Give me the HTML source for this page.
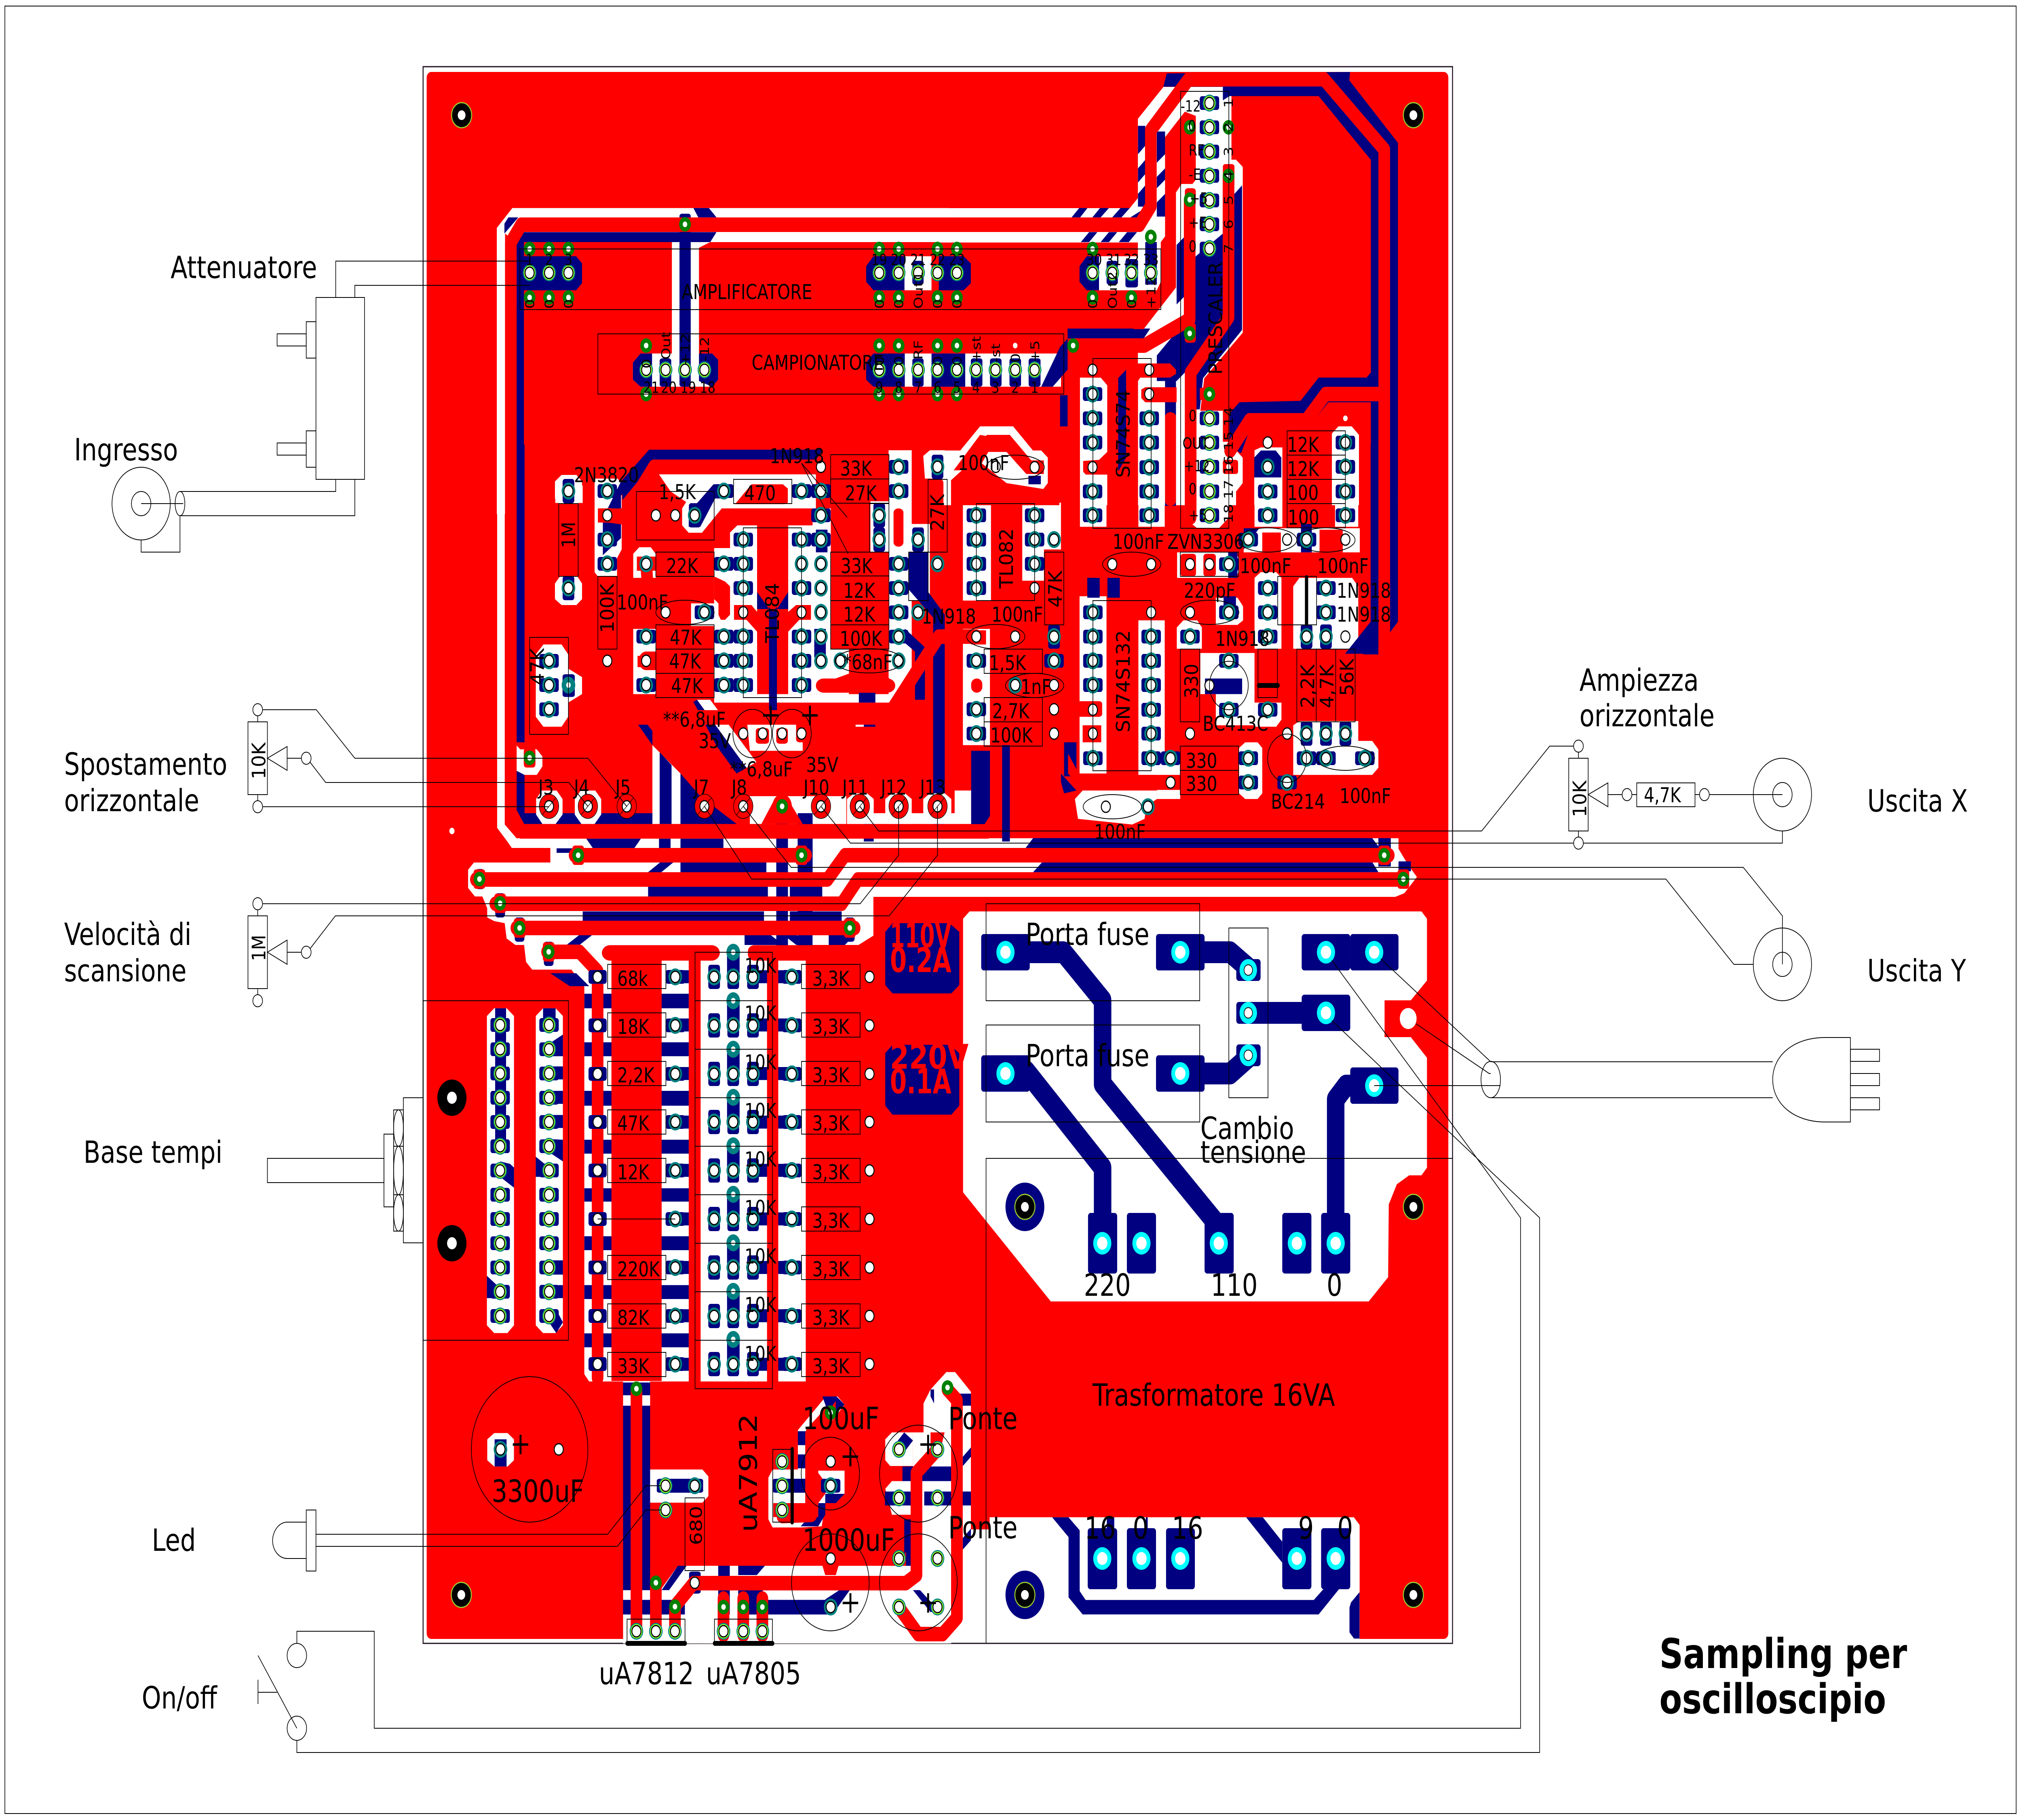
<!DOCTYPE html>
<html><head><meta charset="utf-8"><title>Sampling per oscilloscipio</title>
<style>
html,body{margin:0;padding:0;background:#fff;width:100%;height:100%;overflow:hidden}
svg{display:block;position:absolute;left:0;top:0;width:100vw;height:100vh}
text{font-family:"DejaVu Sans","Liberation Sans",sans-serif;fill:#000}
.s{font-size:51px}.m{font-size:38px}.b{font-size:76px}.v{font-size:58px}
.ln{fill:none;stroke:#000;stroke-width:2}
</style></head><body>
<svg xmlns="http://www.w3.org/2000/svg" viewBox="0 0 6243 4503" preserveAspectRatio="none">
<defs>
<g id="h"><circle r="14" fill="#fff" stroke="#000" stroke-width="3"/></g>
<g id="w"><use href="#h"/></g>
<g id="wb"><rect x="-28" y="-17" width="56" height="34" rx="7" fill="#000080"/><use href="#h"/></g>
<g id="n"><circle r="21" fill="#008080"/><use href="#h"/></g>
<g id="t"><rect x="-30" y="-17" width="60" height="34" rx="7" fill="#000080"/><use href="#n"/></g>
<g id="u"><rect x="-18" y="-30" width="36" height="60" rx="7" fill="#000080"/><use href="#n"/></g>
<g id="y"><circle r="21" fill="#008080"/><circle r="18" fill="#9aff20"/><use href="#h"/></g>
<g id="yb"><rect x="-30" y="-17" width="60" height="34" rx="7" fill="#000080"/><use href="#y"/></g>
<g id="g"><circle r="18" fill="#008000"/><circle r="7" fill="#fff"/></g>
<g id="gr"><rect x="-18" y="-24" width="36" height="48" rx="8" fill="#f00"/><use href="#g"/></g>
<g id="d"><circle r="21" fill="#008080"/><circle r="7" fill="#fff"/></g>
<g id="j"><circle r="30" fill="#f00" stroke="#000" stroke-width="1.5"/><use href="#h"/><line x1="-21" y1="21" x2="21" y2="-21" stroke="#000" stroke-width="1.5"/></g>
<g id="mt"><circle r="31" fill="#000" stroke="#9acd32" stroke-width="3"/><circle r="12" fill="#fff"/></g>
<g id="cy"><circle r="28" fill="#0ff"/><circle r="16" fill="#fff"/></g>
<g id="cz"><circle r="27" fill="#0ff"/><circle r="13" fill="#fff" stroke="#000" stroke-width="2"/></g>
<g id="plus"><path d="M-24,0H24M0,-24V24" stroke="#000" stroke-width="6" fill="none"/></g>
</defs>
<rect width="6243" height="4503" fill="#fff"/>
<rect x="15" y="15" width="6213" height="4472" fill="none" stroke="#000" stroke-width="2"/>
<rect x="1307" y="165" width="3180" height="3901" fill="none" stroke="#201020" stroke-width="3"/>
<rect x="1318" y="178" width="3156" height="3877" rx="14" fill="#f00"/>

<!-- WHITE LAYER 1 -->
<g fill="#fff">
<g transform="translate(1300,150) scale(1.0204,.7015)">
<polygon points="230,590 277,520 1600,520 1600,640 876,640 842,660 842,1040 760,1040 760,640 312,640 288,640 255,610 255,1600 230,1600"/>
<polygon points="1464,690 1546,690 1546,810 1464,810"/>
<polygon points="642,1065 665,1033 882,1033 900,1055 900,1125 882,1150 665,1150 642,1125"/>
<polygon points="1465,1033 1600,1033 1600,1150 1465,1150"/>
<polygon points="407,1500 430,1475 470,1475 490,1500 490,1560 407,1560"/>
</g>
<polygon points="2900,515 3490,515 3515,490 3515,294 3594,215 3804,215 3804,395 3818,395 3839,413 3839,823 3720,936 3700,1070 3660,1100 3660,1250 3620,1250 3600,915 3515,915 3515,600 2900,600"/>
<g transform="translate(2900,150) scale(1.0204,.7015)">
<polygon points="485,690 603,690 603,810 485,810"/>
<polygon points="0,1033 310,1033 370,1033 370,1150 0,1150"/>
<polygon points="427,1118 510,1118 510,1568 427,1568"/>
<polygon points="603,1118 685,1118 685,1568 603,1568"/>
<polygon points="778,1235 860,1235 860,1568 778,1568"/>
<polygon points="860,1375 900,1375 920,1400 920,1490 900,1520 900,1568 860,1568"/>
<polygon points="0,1375 65,1375 125,1290 225,1290 285,1375 310,1375 330,1400 330,1490 310,1520 300,1568 0,1568"/>
<polygon points="955,1400 975,1375 1020,1375 1037,1400 1037,1568 955,1568"/>
<polygon points="1190,1315 1210,1290 1250,1290 1272,1320 1272,1568 1190,1568"/>
<polygon points="1308,1460 1332,1460 1332,1568 1308,1568"/>
<polygon points="1367,1480 1390,1530 1390,1568 1367,1568"/>
</g>
<g transform="translate(1500,1100) scale(1.0204,.7015)">
<polygon points="35,0 58,0 58,1340 95,1390 95,1422 80,1422 35,1352"/>
<polygon points="210,130 230,107 275,107 292,130 292,185 280,208 222,208 210,190"/>
<polygon points="210,490 225,465 278,465 292,490 292,545 275,566 230,566 210,545"/>
<polygon points="330,120 400,120 412,140 412,370 398,400 398,465 340,465 330,450"/>
<polygon points="447,385 465,362 500,362 515,385 515,470 447,470"/>
<polygon points="660,105 1000,105 1000,225 715,225 655,311 615,311 595,285 595,225"/>
<polygon points="525,105 660,105 610,205 560,165"/>
<polygon points="692,365 740,365 740,310 762,285 822,285 822,880 692,880"/>
<polygon points="916,285 1045,285 1045,880 916,880"/>
<polygon points="1045,720 1100,720 1100,880 1045,880"/>
<polygon points="447,650 515,650 515,880 447,880"/>
<polygon points="622,560 706,560 706,640 622,640"/>
<polygon points="692,880 1250,880 1250,910 692,910"/>
<polygon points="1220,20 1290,20 1290,820 1250,880 1220,880"/>
<polygon points="990,225 1045,225 1045,340 990,340"/>
<polygon points="1165,200 1230,200 1230,380 1165,380"/>
<polygon points="1325,40 1345,20 1390,20 1410,40 1410,120 1345,120 1330,120"/>
<polygon points="1280,280 1345,280 1345,550 1280,550"/>
<polygon points="1445,200 1530,200 1530,550 1445,550"/>
<polygon points="1445,650 1530,650 1530,1060 1445,1060"/>
<polygon points="152,740 175,705 230,705 250,740 250,790 292,820 292,880 250,910 250,960 230,995 175,995 152,960"/>
<polygon points="93,1060 105,1075 155,1075 172,1100 172,1135 155,1165 105,1165 93,1150"/>
<polygon points="790,960 960,960 960,1080 800,1080"/>
<polygon points="1120,960 1180,960 1180,995 1120,995"/>
<polygon points="800,1240 1092,1240 1092,1338 800,1338"/>
<polygon points="505,1060 590,1160 590,1338 505,1338"/>
<polygon points="1094,1300 1445,1300 1445,1338 1094,1338"/>
<polygon points="1420,1220 1470,1220 1470,1338 1420,1338"/>
<polygon points="640,900 680,900 820,1120 790,1140"/>
</g>
<g transform="translate(3000,1100) scale(.9566,.7015)">
<polygon points="-20,205 62,205 62,540 -20,540"/>
<polygon points="165,205 290,205 290,370 235,370 235,480 165,480"/>
<polygon points="350,-10 437,-10 437,290 350,290"/>
<polygon points="540,-10 625,-10 625,290 540,290"/>
<polygon points="690,-10 830,-10 830,260 800,295 730,295 690,260"/>
<polygon points="665,380 850,380 865,400 865,450 850,470 665,470"/>
<polygon points="350,535 437,535 437,1160 350,1160"/>
<polygon points="540,620 625,620 625,1165 540,1165"/>
<polygon points="664,645 685,620 730,620 745,645 745,720 664,720"/>
<polygon points="790,540 860,540 878,570 878,620 860,636 790,636"/>
<polygon points="740,735 915,735 915,990 790,990 790,880 740,880"/>
<polygon points="915,470 935,450 985,450 1002,470 1002,720 915,720"/>
<polygon points="915,910 1002,910 1002,970 985,995 915,995"/>
<polygon points="1040,500 1060,470 1230,470 1250,500 1250,720 1040,720"/>
<polygon points="1040,990 1060,975 1250,975 1250,1045 1295,1045 1315,1075 1315,1140 1295,1165 1180,1165 1040,1165"/>
<polygon points="865,1070 885,1050 925,1050 940,1070 940,1230 925,1250 885,1250 865,1230"/>
<polygon points="600,1085 675,1085 675,1250 600,1250"/>
<polygon points="335,1250 360,1220 600,1220 600,1250 565,1275 560,1320 520,1340 345,1320"/>
<polygon points="915,20 935,10 1005,10 1005,290 915,290"/>
<polygon points="1175,10 1250,10 1250,290 1175,290"/>
<polygon points="880,295 1255,295 1255,380 880,380"/>
<polygon points="1290,0 1378,0 1378,625 1300,740 1290,740"/>
</g>
<!-- bars region + resistor columns -->
<polygon points="1538,2048 1581,2098 1700,2098 1700,2134 1464,2134 1446,2152 1446,2197 1467,2218 1490,2218 1505,2247 1505,2270 1527,2279 1559,2284 1565,2322 1592,2338 1619,2338 1625,2380 1644,2399 1765,2399 1805,2442 1805,3400 1820,3418 2489,3418 2489,2338 2652,2338 2698,2315 2698,2219 4310,2219 4338,2210 4377,2170 4350,2140 4320,2100 4320,2074 1560,2074"/>
<g transform="translate(1300,2200) scale(1.0204,.7653)">
<polygon points="200,410 222,385 260,385 282,410 282,1410 262,1435 222,1435 200,1410"/>
<polygon points="348,410 370,385 408,385 430,410 430,1410 408,1435 370,1435 348,1410"/>
</g>
<g transform="translate(1400,3300) scale(1.0842,.574)">
<polygon points="484,205 500,190 545,190 561,205 561,310 484,310"/>
<polygon points="540,618 562,585 710,585 727,615 727,700 710,728 562,728 540,700"/>
<polygon points="97,455 117,428 155,428 173,455 173,545 155,572 117,572 97,545"/>
<polygon points="1360,240 1405,165 1430,165 1475,250 1475,1225 1418,1335 484,1335 484,1105 590,1105 640,1000 1310,1000 1310,425 1340,425 1340,300"/>
<polygon points="982,415 1062,270 1095,270 1115,305 1062,410 1010,420 1005,590 1115,590 1115,690 1090,730 1060,730 1050,830 990,835 910,835 898,800 898,620 910,585 982,585"/>
<polygon points="1231,455 1250,425 1310,425 1310,570 1245,570 1231,545"/>
<polygon points="1231,668 1250,635 1310,635 1310,780 1250,780"/>
<polygon points="1231,1100 1310,1100 1310,1250 1231,1170"/>
</g>
<polygon points="2995,2255 4391,2255 4408,2273 4408,2426 4358,2475 4277,2475 4277,2566 4358,2566 4408,2617 4408,2889 4391,2908 4353,2908 4315,2930 4290,2980 4288,3160 4228,3220 3246,3220 2975,2950 2975,2273"/>
<polygon points="2999,3700 2999,3784 3057,3784 3057,3754 4182,3754 4200,3773 4200,4060 2900,4060 2900,3700"/>
</g>

<!-- BLUE LAYER -->
<g fill="#000080">
<g transform="translate(1300,150) scale(1.0204,.7015)">
<polygon points="253,605 253,575 265,553 295,553 253,610"/>
<rect x="288" y="605" width="24" height="1000"/>
<polygon points="290,605 895,605 876,640 312,640 290,630"/>
<polygon points="825,520 872,520 895,553 840,553"/>
<rect x="783" y="540" width="34" height="610" rx="8"/>
<polygon points="300,690 470,690 488,715 488,785 470,810 300,810"/>
<polygon points="1348,725 1370,690 1464,690 1464,810 1370,810 1348,780"/>
<rect x="1488" y="706" width="34" height="84" rx="8"/>
<polygon points="642,1065 665,1033 700,1033 700,1150 665,1150 642,1125"/>
<rect x="723" y="1050" width="35" height="100" rx="8"/>
<polygon points="842,1033 882,1033 900,1055 900,1125 882,1150 842,1130"/>
<polygon points="1348,1065 1370,1033 1465,1033 1465,1150 1370,1150 1348,1125"/>
<rect x="1488" y="1050" width="34" height="100" rx="8"/>
<polygon points="1546,1033 1600,1033 1600,1150 1546,1150"/>
<polygon points="690,1375 1200,1375 1180,1410 710,1410 610,1550 610,1500"/>
</g>
<g transform="translate(2900,150) scale(1.0204,.7015)">
<polygon points="0,690 75,690 97,715 97,785 75,810 0,810"/>
<polygon points="426,725 448,690 485,690 485,810 448,810 426,780"/>
<rect x="508" y="706" width="34" height="84" rx="8"/>
<rect x="565" y="700" width="38" height="100" rx="8"/>
<rect x="625" y="640" width="35" height="150"/>
<polygon points="0,1033 80,1033 80,1150 0,1150"/>
<rect x="97" y="1050" width="35" height="100" rx="8"/>
<rect x="155" y="1050" width="35" height="100" rx="8"/>
<rect x="214" y="1050" width="35" height="100" rx="8"/>
<rect x="272" y="1050" width="36" height="100" rx="8"/>
<polygon points="367,1010 390,980 390,1090 345,1150 310,1150"/>
<rect x="367" y="1180" width="23" height="110"/>
<polygon points="690,45 1245,40 1243,70 1390,290 1390,1978 1317,2092 1230,2092 1308,1978 1308,350 1150,125 880,125 860,140 860,92 680,92"/>
<polygon points="778,690 860,610 860,480 895,470 918,440 918,950 800,1120 790,1230 745,1230 745,800"/>
<rect x="603" y="230" width="22" height="285"/>
<rect x="660" y="250" width="25" height="300"/>
<polygon points="402,553 425,520 450,520 428,553"/>
<polygon points="465,553 488,520 515,520 490,553"/>
<polygon points="525,553 550,520 578,520 553,553"/>
<polygon points="580,553 625,520 625,553"/>
<polygon points="430,640 455,605 480,605 455,640"/>
<polygon points="490,640 515,605 540,605 515,640"/>
<polygon points="545,640 570,605 600,605 575,640"/>
<polygon points="1308,1100 1295,1118 1150,1118 1095,1200 910,1205 880,1245 880,1360 915,1385 945,1290 1120,1290 1180,1205 1330,1205 1330,1460 1308,1460"/>
<polygon points="955,1400 975,1375 1020,1375 1037,1400 1037,1470 955,1470"/>
<polygon points="543,1120 567,1090 567,1400 543,1450"/>
<rect x="685" y="1100" width="33" height="470"/>
<polygon points="390,945 640,945 620,980 390,980"/>
<polygon points="720,650 745,620 745,830 720,860"/>
<polygon points="660,1040 745,920 745,1100 720,1130 660,1130"/>
</g>
<g transform="translate(1500,1100) scale(1.0204,.7015)">
<rect x="93" y="0" width="25" height="1050"/>
<polygon points="495,18 1020,18 1000,55 500,55 410,180 410,330 355,390 355,260 410,130"/>
<polygon points="690,140 730,140 730,190 695,190 650,290 615,290 615,240"/>
<polygon points="93,1150 118,1165 118,1300 505,1300 505,1338 115,1338 93,1300"/>
<polygon points="527,1085 563,1130 563,1338 527,1338"/>
<polygon points="590,1160 650,1240 760,1338 590,1338"/>
<polygon points="610,920 640,900 790,1140 760,1160"/>
<polygon points="416,905 445,960 505,1060 505,1010 425,890"/>
<rect x="1145" y="960" width="35" height="35"/>
<rect x="1130" y="875" width="50" height="35"/>
<rect x="1470" y="1080" width="60" height="260"/>
<rect x="858" y="560" width="24" height="400"/>
<polygon points="822,520 858,580 822,580"/>
<polygon points="916,520 882,580 916,580"/>
<polygon points="1280,380 1340,380 1340,520 1390,600 1390,1340 1355,1340 1355,610 1280,510"/>
<polygon points="1270,650 1330,715 1330,900 1300,900 1300,730 1250,680"/>
<rect x="995" y="650" width="35" height="100"/>
<rect x="1000" y="300" width="35" height="80"/>
<polygon points="305,1390 470,1390 450,1424 325,1424"/>
<polygon points="525,1390 560,1390 560,1424 525,1424"/>
<polygon points="590,1390 720,1390 720,1424 590,1424"/>
<polygon points="490,1510 530,1472 570,1472 530,1510"/>
<rect x="590" y="1472" width="260" height="38"/>
<rect x="880" y="1300" width="35" height="270"/>
<rect x="945" y="1300" width="45" height="270"/>
<rect x="1145" y="1300" width="30" height="100"/>
<rect x="233" y="810" width="37" height="80" rx="8"/>
<polygon points="215,1440 320,1440 300,1424 215,1424"/>
</g>
<g transform="translate(3000,1100) scale(.9566,.7015)">
<polygon points="1290,0 1315,0 1315,740 1290,740"/>
<polygon points="1350,0 1378,0 1378,625 1300,740 1265,740 1350,610"/>
<rect x="815" y="535" width="40" height="65"/>
<rect x="830" y="380" width="30" height="90"/>
<rect x="755" y="825" width="120" height="55"/>
<polygon points="200,1388 1295,1388 1320,1424 175,1424"/>
<polygon points="230,1472 1295,1472 1315,1508 200,1508"/>
<rect x="1315" y="1388" width="40" height="100"/>
<rect x="1380" y="1470" width="40" height="35"/>
<rect x="375" y="470" width="40" height="70"/>
<rect x="440" y="470" width="40" height="70"/>
<polygon points="880,295 930,295 880,370"/>
<polygon points="185,110 225,110 225,140 185,140"/>
<rect x="1065" y="280" width="35" height="100"/>
<rect x="100" y="1060" width="25" height="340"/>
<rect x="300" y="1050" width="40" height="120"/>
<polygon points="290,1160 340,1220 300,1230 290,1190"/>
</g>
<!-- vertical traces through bars -->
<rect x="2398" y="2074" width="36" height="266"/>
<rect x="2464" y="2074" width="46" height="266"/>
<rect x="1800" y="2255" width="560" height="23"/>
<rect x="2440" y="2255" width="160" height="23"/>
<rect x="2002" y="2194" width="370" height="25"/>
<rect x="2440" y="2194" width="100" height="25"/>
<polygon points="1750,2338 1790,2313 1830,2313 1790,2338"/>
<polygon points="2300,2313 2380,2313 2420,2338 2300,2338"/>
<polygon points="2420,2313 2460,2313 2500,2338 2460,2338"/>
<polygon points="2560,2313 2640,2313 2610,2338 2560,2338"/>
<rect x="1530" y="2210" width="30" height="60" rx="8"/>
<rect x="1590" y="2270" width="30" height="60" rx="8"/>
<rect x="1680" y="2330" width="30" height="60" rx="8"/>
<rect x="1470" y="2150" width="26" height="50" rx="8"/>
<rect x="2610" y="2270" width="30" height="60" rx="8"/>
<polygon points="1700,2408 1780,2408 1820,2440 1760,2440"/>
<g transform="translate(1300,2200) scale(1.0204,.7653)">
<rect x="225" y="385" width="33" height="445"/>
<polygon points="240,880 270,888 282,900 282,965 240,930"/>
<polygon points="200,1250 240,1290 240,1322 200,1322"/>
<rect x="370" y="385" width="38" height="40"/>
<polygon points="388,500 430,470 430,540 388,540"/>
<rect x="388" y="573" width="42" height="42"/>
<rect x="388" y="652" width="42" height="42"/>
<rect x="388" y="730" width="42" height="42"/>
<polygon points="388,808 430,810 430,880 388,850"/>
<polygon points="348,865 400,910 400,930 348,930"/>
<rect x="388" y="1200" width="42" height="46"/>
<rect x="388" y="1280" width="42" height="42"/>
<polygon points="388,1360 410,1360 430,1400 410,1435 388,1400"/>
<rect x="495" y="338" width="316" height="47"/>
<rect x="495" y="495" width="316" height="45"/>
<rect x="495" y="652" width="316" height="48"/>
<rect x="495" y="810" width="316" height="45"/>
<rect x="495" y="967" width="316" height="43"/>
<rect x="495" y="1122" width="316" height="45"/>
<rect x="495" y="1280" width="316" height="45"/>
<rect x="495" y="1436" width="316" height="45"/>
<rect x="752" y="262" width="59" height="42"/>
<rect x="752" y="418" width="59" height="42"/>
<rect x="752" y="575" width="59" height="42"/>
<rect x="752" y="732" width="59" height="42"/>
<rect x="752" y="888" width="59" height="42"/>
<rect x="752" y="1045" width="59" height="42"/>
<rect x="752" y="1202" width="59" height="42"/>
<rect x="752" y="1358" width="59" height="42"/>
<rect x="752" y="1515" width="59" height="42"/>
<rect x="1000" y="262" width="140" height="42"/>
<rect x="1000" y="418" width="140" height="42"/>
<rect x="1000" y="575" width="140" height="42"/>
<rect x="1000" y="732" width="140" height="42"/>
<rect x="1000" y="888" width="140" height="42"/>
<rect x="1000" y="1045" width="140" height="42"/>
<rect x="1000" y="1202" width="140" height="42"/>
<rect x="1000" y="1358" width="140" height="42"/>
<rect x="1000" y="1515" width="140" height="42"/>
<rect x="927" y="203" width="38" height="80"/>
<rect x="927" y="360" width="38" height="80"/>
<rect x="927" y="517" width="38" height="80"/>
<rect x="927" y="674" width="38" height="80"/>
<rect x="927" y="831" width="38" height="80"/>
<rect x="927" y="988" width="38" height="80"/>
<rect x="927" y="1145" width="38" height="80"/>
<rect x="927" y="1301" width="38" height="80"/>
<rect x="927" y="1458" width="38" height="80"/>
<polygon points="1406,138 1428,110 1600,110 1630,138 1630,310 1606,337 1428,337 1406,310"/>
<polygon points="1406,530 1428,503 1600,503 1630,530 1630,700 1606,729 1428,729 1406,700"/>
</g>
<g transform="translate(1400,3300) scale(1.0842,.574)">
<rect x="484" y="210" width="77" height="55"/>
<rect x="484" y="310" width="77" height="795"/>
<rect x="484" y="1147" width="176" height="63"/>
<rect x="580" y="625" width="132" height="60" rx="8"/>
<polygon points="640,1000 665,1000 615,1105 594,1105"/>
<rect x="755" y="1000" width="33" height="210"/>
<polygon points="812,1000 888,1000 865,1040 812,1040"/>
<rect x="812" y="1105" width="70" height="105"/>
<rect x="672" y="1025" width="33" height="95" rx="8"/>
<rect x="810" y="1147" width="270" height="63"/>
<polygon points="1060,1145 1100,1105 1130,1105 1090,1190 1075,1210"/>
<polygon points="1052,270 1092,270 1115,305 1075,370"/>
<polygon points="982,420 1010,420 1005,480 982,480"/>
<polygon points="982,520 1010,520 1005,580 982,580"/>
<rect x="912" y="625" width="188" height="60" rx="8"/>
<polygon points="1060,690 1115,690 1090,730 1060,730"/>
<polygon points="1040,730 1060,730 1060,780 1040,830 990,830 1010,795 1040,780"/>
<rect x="118" y="455" width="34" height="117"/>
<rect x="1280" y="572" width="140" height="63"/>
<rect x="1230" y="680" width="80" height="60"/>
<rect x="1342" y="680" width="133" height="60"/>
<rect x="1285" y="800" width="25" height="200"/>
<polygon points="1310,1105 1330,1105 1385,1195 1360,1200"/>
<polygon points="1285,425 1310,460 1285,510 1262,470"/>
<rect x="1420" y="258" width="55" height="52"/>
<polygon points="1452,530 1475,490 1475,530 1452,570"/>
<polygon points="1452,930 1475,890 1475,840 1452,880"/>
<polygon points="1360,240 1370,240 1370,300 1360,270"/>
</g>
<!-- power area pads -->
<rect x="3031" y="2311" width="150" height="90" rx="8"/>
<rect x="3571" y="2311" width="150" height="90" rx="8"/>
<rect x="4021" y="2311" width="150" height="90" rx="8"/>
<rect x="4171" y="2311" width="149" height="90" rx="8"/>
<rect x="4021" y="2461" width="150" height="90" rx="8"/>
<rect x="3031" y="2611" width="150" height="90" rx="8"/>
<rect x="3571" y="2611" width="150" height="90" rx="8"/>
<rect x="4171" y="2641" width="149" height="90" rx="8"/>
<rect x="3819" y="2373" width="75" height="54" rx="8"/>
<rect x="3819" y="2479" width="75" height="54" rx="8"/>
<rect x="3819" y="2584" width="75" height="54" rx="8"/>
<rect x="3361" y="3001" width="90" height="150" rx="8"/>
<rect x="3481" y="3001" width="90" height="150" rx="8"/>
<rect x="3721" y="3001" width="90" height="150" rx="8"/>
<rect x="3961" y="3001" width="90" height="150" rx="8"/>
<rect x="4081" y="3001" width="90" height="150" rx="8"/>
<circle cx="3166" cy="2986" r="60"/>
<rect x="3360" y="3781" width="91" height="151" rx="8"/>
<rect x="3481" y="3781" width="90" height="151" rx="8"/>
<rect x="3602" y="3781" width="89" height="151" rx="8"/>
<rect x="3961" y="3781" width="90" height="151" rx="8"/>
<rect x="4081" y="3781" width="90" height="151" rx="8"/>
<circle cx="3166" cy="3946" r="60"/>
<g transform="translate(3000,3600) scale(1.148,.5102)">
<polygon points="218,302 262,302 292,365 292,660 308,703 922,703 948,650 990,650 935,773 300,773 262,690 262,398"/>
<polygon points="740,302 785,302 837,420 837,522"/>
<polygon points="1045,665 1045,890 1030,890 1018,860 1018,740 1022,715"/>
<rect x="365" y="302" width="20" height="60"/>
<rect x="470" y="302" width="5" height="60"/>
</g>
</g>
<g fill="none" stroke="#000080" stroke-width="54" stroke-linejoin="round">
<polyline points="3106,2356 3285,2356 3406,2475 3406,2682 3765,3034 3765,3076"/>
<polyline points="3106,2656 3171,2651 3406,2889 3406,3076"/>
<polyline points="3646,2356 3800,2356 3856,2395"/>
<polyline points="3856,2506 4096,2506"/>
<polyline points="3646,2656 3800,2656 3856,2616"/>
<polyline points="4245,2686 4158,2686 4126,2720 4126,3076"/>
</g>

<!-- WHITE 2: pockets over blue -->
<g fill="#fff">
<g transform="translate(1500,1100) scale(1.0204,.7015)">
<polygon points="153,1250 170,1220 215,1220 233,1250 233,1305 212,1338 172,1338 153,1305"/>
<polygon points="270,1250 288,1220 332,1220 350,1250 350,1305 330,1338 290,1338 270,1305"/>
<polygon points="1094,1250 1115,1230 1155,1230 1175,1250 1175,1338 1094,1338"/>
<polygon points="1210,1250 1230,1230 1270,1230 1290,1250 1290,1338 1210,1338"/>
<polygon points="1325,1250 1345,1230 1390,1230 1410,1250 1410,1338 1325,1338"/>
</g>
<g transform="translate(2900,150) scale(1.0204,.7015)">
<polygon points="603,330 625,300 625,350 603,380"/>
<polygon points="603,430 625,400 625,440 603,470"/>
<polygon points="660,360 685,330 685,380 660,410"/>
<polygon points="660,450 685,420 685,470 660,500"/>
</g>
</g>

<!-- RED TRACES & POURS -->
<g fill="none" stroke="#f00" stroke-width="36" stroke-linejoin="round" stroke-linecap="round">
<polyline points="3076,1545 3076,2025 3050,2057 1610,2057 1578,2010 1578,600 1610,556 3520,556 3555,510 3555,322 3672,196 4090,196 4276,370 4276,1620"/>
<polyline points="4290,2116 2610,2116 2556,2176 1470,2176"/>
<polyline points="4335,2176 2650,2176 2600,2236 1530,2236"/>
<polyline points="1775,2116 2490,2116"/>
<polyline points="1595,2296 2640,2296"/>
<polyline points="1690,2355 1790,2355 1846,2403 1846,3409"/>
<polyline points="1966,3436 1966,4035"/>
<polyline points="2026,3917 2026,4035"/>
<polyline points="2085,3974 2085,4035"/>
<polyline points="2235,3955 2235,4045"/>
<polyline points="2296,3955 2296,4045"/>
<polyline points="2355,3955 2355,4045"/>
<polyline points="2927,3438 2956,3464 2956,4003 2912,4043 2836,4043 2777,3977"/>
<polyline points="2896,3586 2831,3644 2831,3897 2798,3917 2143,3917 2085,3974"/>
<polyline points="2565,3495 2506,3547 2506,3748 2417,3751"/>
<polyline points="3318,855 3318,1340 3390,1410 3470,1410"/>
<polyline points="3675,494 3675,790 3535,855 3318,855"/>
<polyline points="3795,435 3795,785 3678,922 3678,1280"/>
<polyline points="2536,1155 2020,1155 1925,1280 1880,1275"/>
<polyline points="1996,1395 2000,1440 1925,1530 1925,1730 1965,1775 2740,1775 2900,1575 3016,1575"/>
<polyline points="1996,1635 2040,1635 2130,1760 2280,1990 2296,1995" stroke-width="46"/>
<polyline points="1996,1515 2060,1515"/>
<polyline points="4276,975 4095,975 4035,1040 3860,1040 3800,1115"/>
</g>
<g fill="#f00">
<g transform="translate(2900,150) scale(1.0204,.7015)">
<polygon points="685,270 745,180 778,195 778,420 768,435 735,435 718,465 718,800 620,947 590,947 590,810 660,810 672,780 672,640 685,620"/>
<rect x="745" y="450" width="33" height="60" rx="10"/>
<rect x="745" y="925" width="33" height="70" rx="10"/>
<rect x="860" y="365" width="35" height="80" rx="8"/>
<polygon points="790,1155 815,1150 840,1160 840,1190 815,1205 790,1195"/>
<polygon points="437,1075 445,1065 490,1065 543,1130 543,1395 510,1460 445,1460 437,1450 437,1412 485,1408 510,1380 510,1145 490,1118 445,1118 437,1105"/>
<polygon points="567,1085 580,1068 700,1068 718,1090 718,1105 700,1118 610,1118 603,1130 603,1568 567,1568"/>
<polygon points="613,1160 625,1152 720,1152 720,1205 625,1205 613,1190"/>
<rect x="685" y="1240" width="33" height="330" rx="16"/>
<polygon points="37,1480 70,1445 130,1370 145,1320 215,1320 280,1410 318,1410 318,1458 265,1458 205,1380 150,1380 130,1420 205,1490 365,1520 365,1568 97,1568 37,1568"/>
<polygon points="125,1320 150,1325 150,1360 90,1445 45,1445"/>
<rect x="860" y="1408" width="46" height="50" rx="8"/>
</g>
<g transform="translate(1500,1100) scale(1.0204,.7015)">
<polygon points="340,225 412,225 412,275 340,275"/>
<polygon points="458,395 515,395 515,445 458,445"/>
<polygon points="692,465 725,483 740,500 740,600 725,618 712,618 705,600 705,560 692,545"/>
<polygon points="460,745 515,745 527,760 527,785 460,785"/>
<polygon points="752,566 805,566 822,590 858,640 858,700 822,700 822,660 790,618 752,618"/>
<polygon points="985,566 940,566 916,590 882,640 882,700 916,700 916,660 950,618 985,618"/>
<polygon points="822,285 916,285 916,520 870,590 822,520"/>
<polygon points="755,210 805,140 900,140 915,155 915,205 905,210"/>
<polygon points="1000,55 1045,55 1045,100 1000,100"/>
<rect x="1235" y="225" width="30" height="135" rx="15"/>
<rect x="1350" y="120" width="36" height="240" rx="15"/>
<rect x="1000" y="825" width="240" height="50" rx="24"/>
<polygon points="1100,808 1210,808 1240,850 1000,850"/>
<polygon points="875,1250 915,1250 960,1338 835,1338"/>
<rect x="818" y="1000" width="40" height="55" rx="10"/>
<rect x="880" y="1000" width="35" height="55" rx="10"/>
<rect x="940" y="980" width="35" height="70" rx="10"/>
</g>
<g transform="translate(3000,1100) scale(.9566,.7015)">
<polygon points="940,310 1000,310 1000,380 940,380"/>
<polygon points="1125,300 1200,300 1200,380 1125,380"/>
<rect x="750" y="385" width="40" height="80" rx="10"/>
<rect x="676" y="385" width="50" height="80" rx="10"/>
<rect x="313" y="905" width="110" height="55" rx="10"/>
<rect x="360" y="990" width="60" height="60"/>
<polygon points="630,1165 675,1165 675,1218 360,1218 313,1160 313,1090 350,1165"/>
<rect x="0" y="825" width="36" height="50" rx="20"/>
<rect x="110" y="655" width="60" height="50" rx="20"/>
<rect x="0" y="655" width="48" height="50"/>
<rect x="237" y="905" width="40" height="55" rx="10"/>
<rect x="420" y="395" width="67" height="55" rx="10"/>
</g>
<g transform="translate(1300,2200) scale(1.0204,.7653)">
<rect x="577" y="190" width="152" height="1400"/>
<rect x="811" y="225" width="36" height="1380"/>
<rect x="1048" y="205" width="34" height="1400"/>
<rect x="548" y="181" width="357" height="50" rx="25"/>
<rect x="990" y="181" width="385" height="50" rx="20"/>
</g>
<g transform="translate(1400,3300) scale(1.0842,.574)">
<polygon points="561,1000 640,1000 590,1105 561,1105"/>
<polygon points="1052,470 1075,460 1090,480 1090,590 1060,590 1052,560"/>
<polygon points="1000,730 1040,730 1040,790 930,790 930,730"/>
<polygon points="1003,430 1060,350 1090,290 1090,340 1060,420 1040,470 1040,600 1060,640 1060,690 1040,730 1003,730"/>
<polygon points="1052,1000 1098,1000 1090,1040 1060,1040"/>
<rect x="912" y="730" width="38" height="60"/>
<polygon points="1255,1000 1290,940 1290,1000"/>
<polygon points="1360,425 1400,425 1390,490 1320,600 1320,560 1360,490"/>
</g>
</g>

<!-- Red labels on blue blocks -->
<g>
<text x="2749" y="2344" font-size="84" textLength="190" lengthAdjust="spacingAndGlyphs" style="fill:#f00;font-weight:bold">110V</text>
<text x="2749" y="2405" font-size="84" textLength="190" lengthAdjust="spacingAndGlyphs" style="fill:#f00;font-weight:bold">0.2A</text>
<text x="2749" y="2644" font-size="84" textLength="243" lengthAdjust="spacingAndGlyphs" style="fill:#f00;font-weight:bold">220V</text>
<text x="2749" y="2705" font-size="84" textLength="190" lengthAdjust="spacingAndGlyphs" style="fill:#f00;font-weight:bold">0.1A</text>
</g>

<!-- PADS -->
<g>
<use href="#mt" x="1426" y="285"/><use href="#mt" x="4366" y="285"/><use href="#mt" x="1425" y="3946"/><use href="#mt" x="4366" y="3946"/><use href="#mt" x="3166" y="3946"/><use href="#mt" x="3166" y="2986"/><use href="#mt" x="4366" y="2986"/>
<circle cx="1396" cy="2716" r="45" fill="#000"/><circle cx="1396" cy="2716" r="15" fill="#fff"/>
<circle cx="1396" cy="3076" r="45" fill="#000"/><circle cx="1396" cy="3076" r="15" fill="#fff"/>
<circle cx="1396" cy="2056" r="8" fill="#fff"/>
<!-- amp -->
<use href="#y" x="1636" y="675"/><use href="#y" x="1696" y="675"/><use href="#y" x="1756" y="675"/>
<use href="#g" x="1636" y="616"/><use href="#g" x="1696" y="616"/><use href="#g" x="1756" y="616"/><use href="#g" x="1636" y="736"/><use href="#g" x="1696" y="736"/><use href="#g" x="1756" y="736"/>
<use href="#y" x="2716" y="675"/><use href="#y" x="2776" y="675"/><use href="#y" x="2836" y="675"/><use href="#y" x="2896" y="675"/><use href="#y" x="2956" y="675"/>
<use href="#g" x="2716" y="616"/><use href="#g" x="2776" y="616"/><use href="#g" x="2896" y="616"/><use href="#g" x="2956" y="616"/><use href="#g" x="2716" y="736"/><use href="#g" x="2776" y="736"/><use href="#g" x="2896" y="736"/><use href="#g" x="2956" y="736"/>
<use href="#y" x="3375" y="675"/><use href="#y" x="3436" y="675"/><use href="#y" x="3495" y="675"/><use href="#y" x="3555" y="675"/>
<use href="#g" x="3375" y="616"/><use href="#g" x="3375" y="736"/><use href="#g" x="3495" y="736"/><use href="#g" x="3555" y="586"/>
<use href="#g" x="2116" y="555"/>
<!-- camp -->
<use href="#y" x="1996" y="915"/><use href="#y" x="2056" y="915"/><use href="#y" x="2116" y="915"/><use href="#y" x="2176" y="915"/>
<use href="#g" x="1996" y="855"/><use href="#g" x="1996" y="975"/>
<use href="#y" x="2716" y="915"/><use href="#y" x="2776" y="915"/><use href="#y" x="2836" y="915"/><use href="#y" x="2896" y="915"/><use href="#y" x="2956" y="915"/><use href="#y" x="3015" y="915"/><use href="#y" x="3075" y="915"/><use href="#y" x="3136" y="915"/><use href="#y" x="3196" y="915"/>
<use href="#g" x="2716" y="855"/><use href="#g" x="2776" y="855"/><use href="#g" x="2896" y="855"/><use href="#g" x="2956" y="855"/><use href="#g" x="2716" y="975"/><use href="#g" x="2776" y="975"/><use href="#g" x="2896" y="975"/><use href="#g" x="2956" y="975"/>
<circle cx="3136" cy="855" r="7" fill="#fff"/>
<use href="#g" x="3315" y="855"/><use href="#g" x="3675" y="315"/><use href="#g" x="3795" y="315"/><use href="#g" x="3795" y="435"/><use href="#g" x="3675" y="494"/><use href="#g" x="3675" y="825"/><use href="#g" x="3736" y="975"/>
<!-- prescaler -->
<use href="#yb" x="3736" y="255"/><use href="#yb" x="3736" y="315"/><use href="#yb" x="3736" y="375"/><use href="#yb" x="3736" y="435"/><use href="#yb" x="3736" y="496"/><use href="#yb" x="3736" y="555"/><use href="#yb" x="3736" y="615"/>
<use href="#yb" x="3736" y="1035"/><use href="#yb" x="3736" y="1095"/><use href="#yb" x="3736" y="1155"/><use href="#yb" x="3736" y="1216"/><use href="#yb" x="3736" y="1275"/>
<circle cx="3795" cy="1155" r="7" fill="#fff"/><circle cx="3795" cy="1216" r="7" fill="#fff"/>
<!-- SN74S74 -->
<use href="#w" x="3375" y="915"/><use href="#t" x="3375" y="975"/><use href="#t" x="3375" y="1035"/><use href="#t" x="3375" y="1095"/><use href="#w" x="3375" y="1156"/><use href="#t" x="3375" y="1216"/><use href="#t" x="3375" y="1275"/>
<use href="#w" x="3550" y="915"/><use href="#w" x="3550" y="975"/><use href="#t" x="3550" y="1035"/><use href="#t" x="3550" y="1095"/><use href="#t" x="3550" y="1156"/><use href="#t" x="3550" y="1216"/><use href="#t" x="3550" y="1275"/>
<!-- mid pads row by row -->
<use href="#u" x="1756" y="1215"/><use href="#t" x="1876" y="1215"/><use href="#t" x="2236" y="1215"/><use href="#t" x="2476" y="1215"/><use href="#t" x="2536" y="1215"/><use href="#t" x="2776" y="1215"/><use href="#w" x="2536" y="1155"/><use href="#t" x="2776" y="1155"/><use href="#u" x="2896" y="1155"/><use href="#w" x="3076" y="1155"/><use href="#w" x="3196" y="1156"/><circle cx="2086" cy="1215" r="7" fill="#fff"/>
<use href="#w" x="1876" y="1275"/><use href="#w" x="2026" y="1275"/><use href="#w" x="2086" y="1275"/><use href="#u" x="2146" y="1275"/><use href="#t" x="2536" y="1275"/><use href="#u" x="2716" y="1275"/><use href="#t" x="3016" y="1275"/><use href="#t" x="3196" y="1275"/>
<use href="#t" x="1876" y="1335"/><use href="#t" x="2296" y="1335"/><use href="#t" x="2476" y="1335"/><use href="#t" x="2536" y="1335"/><use href="#u" x="2716" y="1335"/><use href="#u" x="2836" y="1335"/><use href="#t" x="3016" y="1335"/><use href="#t" x="3196" y="1335"/><use href="#n" x="3256" y="1335"/>
<use href="#t" x="1876" y="1395"/><use href="#n" x="1996" y="1395"/><use href="#t" x="2236" y="1395"/><use href="#t" x="2296" y="1395"/><use href="#n" x="2476" y="1395"/><use href="#n" x="2536" y="1395"/><use href="#t" x="2776" y="1395"/><use href="#n" x="2896" y="1395"/><use href="#t" x="3016" y="1395"/><use href="#t" x="3196" y="1395"/>
<use href="#u" x="1756" y="1455"/><use href="#t" x="2296" y="1455"/><use href="#t" x="2476" y="1455"/><use href="#n" x="2536" y="1455"/><use href="#t" x="2776" y="1455"/><use href="#t" x="3016" y="1455"/><use href="#w" x="3196" y="1455"/>
<use href="#w" x="2056" y="1515"/><use href="#t" x="2176" y="1515"/><use href="#w" x="2296" y="1515"/><use href="#w" x="2476" y="1515"/><use href="#n" x="2536" y="1515"/><use href="#t" x="2776" y="1515"/><use href="#n" x="2836" y="1515"/>
<use href="#t" x="1996" y="1575"/><use href="#t" x="2236" y="1575"/><use href="#t" x="2296" y="1575"/><use href="#t" x="2476" y="1575"/><use href="#n" x="2536" y="1575"/><use href="#t" x="2776" y="1575"/><use href="#w" x="3016" y="1575"/><use href="#w" x="3136" y="1575"/><use href="#u" x="3256" y="1575"/>
<use href="#t" x="1696" y="1635"/><use href="#w" x="1876" y="1635"/><use href="#w" x="1996" y="1635"/><use href="#t" x="2236" y="1635"/><use href="#t" x="2296" y="1635"/><use href="#t" x="2476" y="1635"/><use href="#n" x="2536" y="1635"/><use href="#n" x="2596" y="1635"/><use href="#n" x="2776" y="1635"/><use href="#t" x="3016" y="1635"/><use href="#t" x="3256" y="1635"/>
<use href="#t" x="1696" y="1695"/><use href="#d" x="1756" y="1695"/><use href="#t" x="1996" y="1695"/><use href="#t" x="2236" y="1695"/><use href="#t" x="2296" y="1695"/><use href="#t" x="2476" y="1695"/>
<use href="#n" x="3136" y="1695"/><use href="#w" x="3256" y="1695"/>
<use href="#t" x="1696" y="1755"/><use href="#t" x="3016" y="1755"/><use href="#w" x="3256" y="1755"/>
<use href="#w" x="2296" y="1815"/><use href="#w" x="2356" y="1815"/><use href="#w" x="2416" y="1815"/><use href="#w" x="2476" y="1815"/><use href="#t" x="3016" y="1815"/><use href="#w" x="3256" y="1815"/>
<!-- right part -->
<use href="#t" x="3376" y="1515"/><use href="#t" x="3376" y="1575"/><use href="#t" x="3376" y="1635"/><use href="#t" x="3376" y="1695"/><use href="#w" x="3376" y="1756"/><use href="#w" x="3376" y="1815"/><use href="#t" x="3376" y="1876"/>
<use href="#w" x="3556" y="1515"/><use href="#t" x="3556" y="1575"/><use href="#t" x="3556" y="1635"/><use href="#t" x="3556" y="1695"/><use href="#t" x="3556" y="1756"/><use href="#t" x="3556" y="1815"/><use href="#t" x="3556" y="1876"/>
<use href="#t" x="3616" y="1876"/><use href="#w" x="3616" y="1936"/><use href="#t" x="3856" y="1876"/><use href="#t" x="3856" y="1936"/>
<use href="#w" x="3436" y="1396"/><use href="#w" x="3556" y="1396"/><use href="#w" x="3676" y="1396"/><use href="#w" x="3736" y="1396"/><use href="#t" x="3796" y="1396"/><use href="#w" x="3676" y="1515"/><use href="#t" x="3796" y="1515"/>
<use href="#t" x="3676" y="1575"/><use href="#t" x="3796" y="1635"/><use href="#w" x="3736" y="1696"/><use href="#t" x="3796" y="1756"/><use href="#w" x="3676" y="1815"/>
<use href="#t" x="3916" y="1455"/><use href="#t" x="3916" y="1515"/><use href="#t" x="3916" y="1575"/><use href="#t" x="3916" y="1756"/>
<use href="#t" x="4096" y="1455"/><use href="#t" x="4096" y="1515"/><use href="#u" x="4036" y="1575"/><use href="#u" x="4096" y="1575"/><use href="#w" x="4156" y="1575"/>
<use href="#u" x="4036" y="1815"/><use href="#u" x="4096" y="1815"/><use href="#u" x="4156" y="1815"/><use href="#t" x="4036" y="1876"/><use href="#t" x="4096" y="1876"/><use href="#t" x="4216" y="1876"/><use href="#w" x="3976" y="1815"/><use href="#t" x="3976" y="1936"/><use href="#w" x="3416" y="1996"/><use href="#n" x="3546" y="1996"/>
<use href="#w" x="3916" y="1095"/><use href="#t" x="3916" y="1155"/><use href="#t" x="3916" y="1216"/><use href="#t" x="3916" y="1275"/>
<use href="#t" x="4156" y="1095"/><use href="#t" x="4156" y="1155"/><use href="#t" x="4156" y="1216"/><use href="#t" x="4156" y="1275"/>
<use href="#t" x="3856" y="1335"/><use href="#w" x="3976" y="1335"/><use href="#t" x="4036" y="1335"/><use href="#w" x="4156" y="1335"/>
<circle cx="4156" cy="1035" r="7" fill="#fff"/>
<!-- J -->
<use href="#j" x="1696" y="1995"/><use href="#j" x="1816" y="1995"/><use href="#j" x="1936" y="1995"/><use href="#j" x="2176" y="1995"/><use href="#j" x="2296" y="1995"/><use href="#j" x="2536" y="1995"/><use href="#j" x="2656" y="1995"/><use href="#j" x="2776" y="1995"/><use href="#j" x="2896" y="1995"/>
<circle cx="2416" cy="1995" r="30" fill="#f00"/><use href="#g" x="2416" y="1995"/>
<use href="#gr" x="1636" y="1875"/>
<use href="#gr" x="1786" y="2116"/><use href="#gr" x="2476" y="2116"/><use href="#gr" x="4276" y="2116"/><use href="#gr" x="1481" y="2175"/><use href="#gr" x="4335" y="2175"/><use href="#gr" x="1545" y="2235"/><use href="#gr" x="1605" y="2296"/><use href="#gr" x="2625" y="2296"/><use href="#gr" x="1695" y="2355"/>
<!-- resistor rows lower left -->
<g id="row0">
<use href="#wb" x="1846" y="2417"/><use href="#t" x="2086" y="2417"/><use href="#u" x="2206" y="2417"/><use href="#u" x="2265" y="2417"/><use href="#u" x="2326" y="2417"/><use href="#t" x="2446" y="2417"/><use href="#w" x="2686" y="2417"/><use href="#d" x="2265" y="2356"/>
</g>
<use href="#row0" y="120"/><use href="#row0" y="240"/><use href="#row0" y="359"/><use href="#row0" y="479"/><use href="#row0" y="599"/><use href="#row0" y="719"/><use href="#row0" y="839"/><use href="#row0" y="958"/>
<g id="lc"><use href="#yb" x="1545" y="2536"/><use href="#yb" x="1696" y="2536"/></g>
<use href="#lc" y="60"/><use href="#lc" y="120"/><use href="#lc" y="180"/><use href="#lc" y="240"/><use href="#lc" y="300"/><use href="#lc" y="360"/><use href="#lc" y="420"/><use href="#lc" y="480"/><use href="#lc" y="540"/><use href="#lc" y="600"/><use href="#lc" y="660"/><use href="#lc" y="720"/>
<use href="#g" x="1966" y="3436"/>
<!-- power supply small -->
<use href="#n" x="1546" y="3586"/><use href="#w" x="1726" y="3586"/>
<use href="#y" x="2056" y="3676"/><use href="#n" x="2146" y="3676"/><use href="#y" x="2056" y="3736"/><use href="#w" x="2146" y="3916"/>
<use href="#g" x="2026" y="3916"/><use href="#g" x="2085" y="3975"/>
<use href="#g" x="2566" y="3495"/><use href="#w" x="2566" y="3616"/><use href="#t" x="2566" y="3676"/><use href="#y" x="2416" y="3616"/><use href="#yb" x="2416" y="3676"/><use href="#y" x="2416" y="3736"/>
<use href="#y" x="2777" y="3586"/><use href="#y" x="2896" y="3586"/><use href="#y" x="2777" y="3706"/><use href="#y" x="2896" y="3706"/>
<use href="#y" x="2777" y="3856"/><use href="#y" x="2896" y="3856"/><use href="#y" x="2777" y="3976"/><use href="#y" x="2896" y="3976"/>
<use href="#g" x="2927" y="3433"/>
<use href="#w" x="2566" y="3856"/><use href="#n" x="2566" y="3976"/>
<use href="#g" x="2235" y="3976"/><use href="#g" x="2296" y="3976"/><use href="#g" x="2355" y="3976"/>
<use href="#y" x="1966" y="4036"/><use href="#y" x="2026" y="4036"/><use href="#y" x="2085" y="4036"/><use href="#y" x="2235" y="4036"/><use href="#y" x="2296" y="4036"/><use href="#y" x="2355" y="4036"/>
<!-- power pads -->
<use href="#cy" x="3106" y="2356"/><use href="#cy" x="3646" y="2356"/><use href="#cy" x="4096" y="2356"/><use href="#cy" x="4245" y="2356"/><use href="#cy" x="4096" y="2506"/><use href="#cy" x="3106" y="2656"/><use href="#cy" x="3646" y="2656"/><use href="#cy" x="4245" y="2686"/>
<use href="#cz" x="3856" y="2400"/><use href="#cz" x="3856" y="2506"/><use href="#cz" x="3856" y="2611"/>
<use href="#cy" x="3405" y="3076"/><use href="#cy" x="3526" y="3076"/><use href="#cy" x="3765" y="3076"/><use href="#cy" x="4006" y="3076"/><use href="#cy" x="4126" y="3076"/>
<use href="#cy" x="3405" y="3856"/><use href="#cy" x="3526" y="3856"/><use href="#cy" x="3646" y="3856"/><use href="#cy" x="4006" y="3856"/><use href="#cy" x="4126" y="3856"/>
<circle cx="4350" cy="2520" r="26" fill="#fff"/>
</g>

<!-- thick black -->
<g fill="#000">
<rect x="1932" y="4060" width="190" height="12" rx="6"/>
<rect x="2202" y="4060" width="190" height="12" rx="6"/>
<rect x="2442" y="3580" width="10" height="192" rx="5"/>
<rect x="4031" y="1423" width="10" height="126" rx="5"/>
<rect x="3883" y="1690" width="70" height="12" rx="5"/>
</g>

<!-- THIN LINES / OUTLINES -->
<g class="ln">
<rect x="1606" y="616" width="1980" height="150"/>
<rect x="1847" y="826" width="1439" height="149"/>
<rect x="3647" y="226" width="149" height="1081"/>
<rect x="3376" y="887" width="180" height="420"/>
<rect x="3376" y="1486" width="180" height="421"/>
<rect x="2296" y="1306" width="180" height="420"/>
<rect x="3016" y="1246" width="180" height="240"/>
<rect x="2566" y="1125" width="180" height="120"/>
<rect x="2566" y="1366" width="180" height="240"/>
<path d="M2566,1185H2746M2566,1425H2746M2566,1486H2746M2566,1546H2746"/>
<rect x="2266" y="1186" width="180" height="60"/>
<rect x="1966" y="1216" width="240" height="120"/>
<rect x="2026" y="1366" width="180" height="60"/>
<rect x="2026" y="1546" width="180" height="180"/>
<path d="M2026,1606H2206M2026,1666H2206"/>
<rect x="1726" y="1246" width="60" height="180"/>
<rect x="1847" y="1426" width="59" height="180"/>
<rect x="2867" y="1186" width="59" height="180"/>
<rect x="1636" y="1577" width="120" height="240"/>
<rect x="2807" y="1366" width="60" height="120"/>
<rect x="2686" y="1246" width="60" height="120"/>
<rect x="3227" y="1366" width="59" height="180"/>
<rect x="3646" y="1366" width="180" height="60"/>
<rect x="3976" y="1066" width="180" height="240"/>
<path d="M3976,1126H4156M3976,1186H4156M3976,1246H4156"/>
<rect x="3947" y="1426" width="120" height="120"/>
<rect x="3040" y="1606" width="180" height="60"/>
<rect x="3040" y="1726" width="180" height="120"/>
<path d="M3040,1786H3220"/>
<rect x="3646" y="1606" width="60" height="180"/>
<rect x="3886" y="1606" width="60" height="120"/>
<rect x="4006" y="1606" width="180" height="180"/>
<path d="M4066,1606V1786M4126,1606V1786"/>
<rect x="3646" y="1846" width="180" height="120"/>
<path d="M3646,1906H3826"/>
<ellipse cx="2116" cy="1515" rx="90" ry="30"/>
<ellipse cx="2684" cy="1635" rx="105" ry="30"/>
<circle cx="2324" cy="1815" r="60"/>
<circle cx="2446" cy="1815" r="60"/>
<ellipse cx="3136" cy="1156" rx="90" ry="30"/>
<ellipse cx="3496" cy="1396" rx="90" ry="30"/>
<ellipse cx="3737" cy="1515" rx="90" ry="30"/>
<ellipse cx="3916" cy="1336" rx="90" ry="30"/>
<ellipse cx="4096" cy="1336" rx="90" ry="30"/>
<ellipse cx="3076" cy="1575" rx="90" ry="30"/>
<ellipse cx="3196" cy="1696" rx="90" ry="30"/>
<ellipse cx="3436" cy="1996" rx="90" ry="30"/>
<ellipse cx="4156" cy="1876" rx="90" ry="30"/>
<circle cx="3796" cy="1696" r="60"/>
<circle cx="3976" cy="1876" r="60"/>
<circle cx="1636" cy="3586" r="180"/>
<circle cx="2565" cy="3646" r="90"/>
<circle cx="2565" cy="3915" r="120"/>
<circle cx="2837" cy="3646" r="120"/>
<circle cx="2837" cy="3915" r="120"/>
<rect x="2147" y="2356" width="239" height="1080"/>
<path d="M2147,2476H2386M2147,2596H2386M2147,2716H2386M2147,2836H2386M2147,2956H2386M2147,3076H2386M2147,3196H2386M2147,3316H2386"/>
<g id="rr"><rect x="1877" y="2386" width="180" height="60"/><rect x="2476" y="2386" width="181" height="60"/></g>
<use href="#rr" y="120"/><use href="#rr" y="240"/><use href="#rr" y="360"/><use href="#rr" y="480"/>
<rect x="2476" y="2986" width="181" height="60"/><path d="M1846,3016H2086"/>
<use href="#rr" y="720"/><use href="#rr" y="840"/><use href="#rr" y="960"/>
<rect x="2116" y="3706" width="60" height="180"/>
<rect x="1937" y="4006" width="179" height="57"/>
<rect x="2207" y="4006" width="179" height="57"/>
<rect x="2387" y="3586" width="59" height="180"/>
<rect x="3046" y="2236" width="660" height="240"/>
<rect x="3046" y="2536" width="660" height="240"/>
<rect x="3796" y="2296" width="121" height="420"/>
<path d="M3046,4066V2866H4486"/>
<rect x="1307" y="2476" width="449" height="840"/>
<!-- attenuatore -->
<rect x="976" y="736" width="150" height="450"/>
<rect x="946" y="796" width="30" height="90"/>
<rect x="856" y="826" width="90" height="30"/>
<rect x="946" y="1066" width="30" height="90"/>
<rect x="856" y="1096" width="90" height="30"/>
<path d="M1037,736V646H1636M1096,736V706H1636M1037,1186V1216H556M1096,1186V1276H556"/>
<circle cx="436" cy="1246" r="90"/><circle cx="436" cy="1246" r="30"/>
<ellipse cx="556" cy="1246" rx="15" ry="30"/>
<path d="M436,1246H566M436,1336V1366H556V1276"/>
<!-- spostamento -->
<rect x="766" y="1786" width="60" height="180"/>
<circle cx="796" cy="1756" r="15"/><circle cx="796" cy="1996" r="15"/>
<path d="M796,1771V1786M796,1966V1981"/>
<polygon points="826,1876 887,1847 887,1906"/>
<path d="M887,1876H931"/><circle cx="946" cy="1876" r="15"/>
<path d="M811,1756H977L1096,1876H1816L1936,1995"/>
<path d="M958,1886L1006,1936H1757L1816,1995"/>
<path d="M811,1996H1696"/>
<!-- velocita -->
<rect x="766" y="2266" width="60" height="180"/>
<circle cx="796" cy="2236" r="15"/><circle cx="796" cy="2476" r="15"/>
<path d="M796,2251V2266M796,2446V2461"/>
<polygon points="826,2356 887,2326 887,2386"/>
<path d="M887,2356H931"/><circle cx="946" cy="2356" r="15"/>
<path d="M811,2236H2657L2776,2116V1995"/>
<path d="M958,2347L1036,2266H2747L2896,2116V1995"/>
<!-- base tempi -->
<rect x="1246" y="2716" width="61" height="359"/>
<rect x="1216" y="2746" width="30" height="300"/>
<path d="M1216,2836H1246M1216,2956H1246"/>
<ellipse cx="1231" cy="2791" rx="15" ry="45"/><ellipse cx="1231" cy="2896" rx="15" ry="60"/><ellipse cx="1231" cy="3001" rx="15" ry="45"/>
<rect x="1186" y="2806" width="30" height="180"/>
<rect x="826" y="2866" width="360" height="60"/>
<!-- led -->
<rect x="946" y="3736" width="30" height="151"/>
<path d="M946,3766H888C860,3766 842,3790 842,3812C842,3834 860,3856 888,3856H946"/>
<path d="M976,3796H1877L1996,3676H2040M976,3826H1907L1996,3736H2040"/>
<!-- switch -->
<ellipse cx="917" cy="4096" rx="30" ry="30"/><ellipse cx="917" cy="4276" rx="30" ry="30"/>
<path d="M917,4066V4036H1156V4276H4697V3013L4114,2376"/>
<path d="M917,4306V4336H4756V3013L4114,2525"/>
<path d="M797,4096L917,4276M797,4156V4216M797,4187H856"/>
<!-- ampiezza -->
<rect x="4846" y="1876" width="60" height="180"/>
<circle cx="4876" cy="1846" r="15"/><circle cx="4876" cy="2086" r="15"/>
<path d="M4876,1861V1876M4876,2056V2071"/>
<polygon points="4906,1966 4967,1937 4967,1996"/>
<path d="M4967,1966H5011"/><circle cx="5026" cy="1966" r="15"/>
<path d="M5041,1966H5056"/>
<rect x="5056" y="1937" width="180" height="59"/>
<path d="M5236,1966H5250"/><circle cx="5265" cy="1966" r="15"/>
<path d="M5280,1966H5506"/>
<circle cx="5506" cy="1966" r="90"/><circle cx="5506" cy="1966" r="30"/>
<path d="M5506,2056V2086H4891M4861,2086H2627L2536,1995"/>
<path d="M4861,1846H4787L4577,2056H2714L2656,1995"/>
<!-- uscita y -->
<circle cx="5506" cy="2386" r="90"/><circle cx="5506" cy="2386" r="30"/>
<path d="M2296,1995L2444,2146H5385L5506,2266V2386"/>
<path d="M2176,1995L2322,2175H5146L5356,2386H5416"/>
<!-- plug -->
<ellipse cx="4605" cy="2671" rx="30" ry="45"/>
<path d="M4605,2627H5476M4605,2716H5476"/>
<path d="M5638,2567H5716V2776H5638C5540,2776 5476,2730 5476,2671C5476,2612 5540,2567 5638,2567Z"/>
<rect x="5716" y="2596" width="90" height="30"/><rect x="5716" y="2656" width="90" height="30"/><rect x="5716" y="2716" width="90" height="30"/>
<path d="M4605,2627L4265,2372M4605,2656H4600L4374,2533M4635,2686H4245"/>
<!-- 1N918 leaders -->
<path d="M2476,1146L2620,1370M2476,1146L2617,1280"/>
</g>

<!-- TEXT -->
<g>
<text class="b" x="527" y="688">Attenuatore</text>
<text class="b" x="229" y="1139">Ingresso</text>
<text class="b" x="198" y="1917">Spostamento</text>
<text class="b" x="198" y="2007">orizzontale</text>
<text class="b" x="198" y="2338">Velocità di</text>
<text class="b" x="198" y="2428">scansione</text>
<text class="b" x="258" y="2877">Base tempi</text>
<text class="b" x="469" y="3837">Led</text>
<text class="b" x="438" y="4227">On/off</text>
<text class="b" x="4879" y="1709">Ampiezza</text>
<text class="b" x="4879" y="1797">orizzontale</text>
<text class="b" x="5768" y="2008">Uscita X</text>
<text class="b" x="5768" y="2428">Uscita Y</text>
<text x="5126" y="4127" font-size="102" font-weight="bold">Sampling per</text>
<text x="5126" y="4239" font-size="102" font-weight="bold">oscilloscipio</text>
<text class="b" x="3168" y="2338">Porta fuse</text>
<text class="b" x="3168" y="2638">Porta fuse</text>
<text class="b" x="3708" y="2818">Cambio</text>
<text class="b" x="3708" y="2877">tensione</text>
<text class="b" x="3348" y="3206">220</text>
<text class="b" x="3740" y="3206">110</text>
<text class="b" x="4098" y="3206">0</text>
<text class="b" x="3375" y="3478">Trasformatore 16VA</text>
<text class="b" x="3350" y="3807">16</text>
<text class="b" x="3499" y="3807">0</text>
<text class="b" x="3620" y="3807">16</text>
<text class="b" x="4010" y="3807">9</text>
<text class="b" x="4131" y="3807">0</text>
<text class="b" x="1519" y="3716">3300uF</text>
<text class="b" x="2479" y="3536">100uF</text>
<text class="b" x="2479" y="3837">1000uF</text>
<text class="b" x="2929" y="3536">Ponte</text>
<text class="b" x="2929" y="3806">Ponte</text>
<text class="b" x="1850" y="4167">uA7812</text>
<text class="b" x="2181" y="4167">uA7805</text>
<text class="b" transform="translate(2338,3791) rotate(-90)">uA7912</text>
<text class="s" transform="translate(2168,3823) rotate(-90)">680</text>
<text class="s" x="2106" y="740">AMPLIFICATORE</text>
<text class="s" x="2322" y="915">CAMPIONATORE</text>
<text class="v" transform="translate(3775,927) rotate(-90)" textLength="279" lengthAdjust="spacingAndGlyphs">PRESCALER</text>
<text class="v" transform="translate(3490,1182) rotate(-90)" textLength="218" lengthAdjust="spacingAndGlyphs">SN74S74</text>
<text class="v" transform="translate(3490,1812) rotate(-90)" textLength="253" lengthAdjust="spacingAndGlyphs">SN74S132</text>
<text class="v" transform="translate(3129,1456) rotate(-90)" textLength="149" lengthAdjust="spacingAndGlyphs">TL082</text>
<text class="v" transform="translate(2406,1591) rotate(-90)" textLength="149" lengthAdjust="spacingAndGlyphs">TL084</text>
<text class="v" transform="translate(2916,1314) rotate(-90)" textLength="91" lengthAdjust="spacingAndGlyphs">27K</text>
<text class="v" transform="translate(3280,1503) rotate(-90)" textLength="91" lengthAdjust="spacingAndGlyphs">47K</text>
<text class="v" transform="translate(1777,1356) rotate(-90)" textLength="65" lengthAdjust="spacingAndGlyphs">1M</text>
<text class="v" transform="translate(1896,1566) rotate(-90)" textLength="122" lengthAdjust="spacingAndGlyphs">100K</text>
<text class="v" transform="translate(1680,1695) rotate(-90)" textLength="91" lengthAdjust="spacingAndGlyphs">47K</text>
<text class="v" transform="translate(3701,1728) rotate(-90)" textLength="86" lengthAdjust="spacingAndGlyphs">330</text>
<text class="v" transform="translate(4060,1752) rotate(-90)" textLength="108" lengthAdjust="spacingAndGlyphs">2,2K</text>
<text class="v" transform="translate(4119,1752) rotate(-90)" textLength="108" lengthAdjust="spacingAndGlyphs">4,7K</text>
<text class="v" transform="translate(4181,1722) rotate(-90)" textLength="92" lengthAdjust="spacingAndGlyphs">56K</text>
<text class="v" transform="translate(820,1928) rotate(-90)" textLength="91" lengthAdjust="spacingAndGlyphs">10K</text>
<text class="v" transform="translate(820,2378) rotate(-90)" textLength="65" lengthAdjust="spacingAndGlyphs">1M</text>
<text class="v" transform="translate(4900,2022) rotate(-90)" textLength="91" lengthAdjust="spacingAndGlyphs">10K</text>
<text class="s" x="5078" y="1985">4,7K</text>
<text class="s" x="1773" y="1193">2N3820</text>
<text class="s" x="2378" y="1146">1N918</text>
<text class="s" x="2595" y="1177">33K</text>
<text class="s" x="2610" y="1238">27K</text>
<text class="s" x="2035" y="1235">1,5K</text>
<text class="s" x="2299" y="1238">470</text>
<text class="s" x="2058" y="1418">22K</text>
<text class="s" x="2597" y="1418">33K</text>
<text class="s" x="2605" y="1479">12K</text>
<text class="s" x="2605" y="1538">12K</text>
<text class="s" x="2594" y="1598">100K</text>
<text class="s" x="2605" y="1656">*68nF</text>
<text class="s" x="1905" y="1508">100nF</text>
<text class="s" x="2069" y="1595">47K</text>
<text class="s" x="2067" y="1654">47K</text>
<text class="s" x="2073" y="1715">47K</text>
<text class="s" x="2847" y="1543">1N918</text>
<text class="s" x="2048" y="1798">**6,8uF</text>
<text class="s" x="2158" y="1851">35V</text>
<text class="s" x="2255" y="1921">**6,8uF</text>
<text class="s" x="2490" y="1910">35V</text>
<text class="s" x="1663" y="1966">J3</text>
<text class="s" x="1773" y="1966">J4</text>
<text class="s" x="1901" y="1966">J5</text>
<text class="s" x="2143" y="1966">J7</text>
<text class="s" x="2260" y="1966">J8</text>
<text class="s" x="2482" y="1966">J10</text>
<text class="s" x="2602" y="1966">J11</text>
<text class="s" x="2721" y="1966">J12</text>
<text class="s" x="2842" y="1966">J13</text>
<text class="s" x="2959" y="1163">100nF</text>
<text class="s" x="3976" y="1118">12K</text>
<text class="s" x="3976" y="1178">12K</text>
<text class="s" x="3976" y="1237">100</text>
<text class="s" x="3978" y="1298">100</text>
<text class="s" x="3437" y="1358">100nF</text>
<text class="s" x="3606" y="1358">ZVN3306</text>
<text class="s" x="3830" y="1418">100nF</text>
<text class="s" x="4069" y="1418">100nF</text>
<text class="s" x="3657" y="1479">220pF</text>
<text class="s" x="4129" y="1479">1N918</text>
<text class="s" x="4129" y="1538">1N918</text>
<text class="s" x="3063" y="1538">100nF</text>
<text class="s" x="3754" y="1598">1N918</text>
<text class="s" x="3055" y="1658">1,5K</text>
<text class="s" x="3153" y="1717">1nF</text>
<text class="s" x="3065" y="1777">2,7K</text>
<text class="s" x="3059" y="1837">100K</text>
<text class="s" x="3715" y="1808">BC413C</text>
<text class="s" x="3663" y="1900">330</text>
<text class="s" x="3663" y="1957">330</text>
<text class="s" x="3926" y="2001">BC214</text>
<text class="s" x="4138" y="1987">100nF</text>
<text class="s" x="3380" y="2076">100nF</text>
<text class="s" x="1907" y="2439">68k</text>
<text class="s" x="1907" y="2558">18K</text>
<text class="s" x="1907" y="2678">2,2K</text>
<text class="s" x="1907" y="2797">47K</text>
<text class="s" x="1907" y="2918">12K</text>
<text class="s" x="1907" y="3158">220K</text>
<text class="s" x="1907" y="3278">82K</text>
<text class="s" x="1907" y="3398">33K</text>
<text class="s" x="2509" y="2439">3,3K</text>
<text class="s" x="2509" y="2558">3,3K</text>
<text class="s" x="2509" y="2678">3,3K</text>
<text class="s" x="2509" y="2797">3,3K</text>
<text class="s" x="2509" y="2918">3,3K</text>
<text class="s" x="2509" y="3038">3,3K</text>
<text class="s" x="2509" y="3158">3,3K</text>
<text class="s" x="2509" y="3278">3,3K</text>
<text class="s" x="2509" y="3398">3,3K</text>
<text class="s" x="2300" y="2407">10K</text>
<text class="s" x="2300" y="2525">10K</text>
<text class="s" x="2300" y="2646">10K</text>
<text class="s" x="2300" y="2766">10K</text>
<text class="s" x="2300" y="2886">10K</text>
<text class="s" x="2300" y="3006">10K</text>
<text class="s" x="2300" y="3126">10K</text>
<text class="s" x="2300" y="3246">10K</text>
<text class="s" x="2300" y="3367">10K</text>
<!-- pin labels -->
<text class="m" x="1636" y="656" text-anchor="middle">1</text><text class="m" x="1696" y="656" text-anchor="middle">2</text><text class="m" x="1756" y="656" text-anchor="middle">3</text>
<text class="m" x="2716" y="656" text-anchor="middle">19</text><text class="m" x="2776" y="656" text-anchor="middle">20</text><text class="m" x="2836" y="656" text-anchor="middle">21</text><text class="m" x="2896" y="656" text-anchor="middle">22</text><text class="m" x="2956" y="656" text-anchor="middle">23</text>
<text class="m" x="3380" y="656" text-anchor="middle">30</text><text class="m" x="3440" y="656" text-anchor="middle">31</text><text class="m" x="3495" y="656" text-anchor="middle">32</text><text class="m" x="3555" y="656" text-anchor="middle">33</text>
<text class="m" x="2012" y="972" text-anchor="middle">21</text><text class="m" x="2066" y="972" text-anchor="middle">20</text><text class="m" x="2126" y="972" text-anchor="middle">19</text><text class="m" x="2186" y="972" text-anchor="middle">18</text>
<text class="m" x="2716" y="972" text-anchor="middle">9</text><text class="m" x="2776" y="972" text-anchor="middle">8</text><text class="m" x="2836" y="972" text-anchor="middle">7</text><text class="m" x="2896" y="972" text-anchor="middle">6</text><text class="m" x="2956" y="972" text-anchor="middle">5</text><text class="m" x="3015" y="972" text-anchor="middle">4</text><text class="m" x="3075" y="972" text-anchor="middle">3</text><text class="m" x="3136" y="972" text-anchor="middle">2</text><text class="m" x="3196" y="972" text-anchor="middle">1</text>
<text class="m" transform="translate(1650,764) rotate(-90)">0</text><text class="m" transform="translate(1710,764) rotate(-90)">0</text><text class="m" transform="translate(1770,764) rotate(-90)">0</text>
<text class="m" transform="translate(2730,764) rotate(-90)">0</text><text class="m" transform="translate(2790,764) rotate(-90)">0</text><text class="m" transform="translate(2850,764) rotate(-90)">Out1</text><text class="m" transform="translate(2910,764) rotate(-90)">0</text><text class="m" transform="translate(2970,764) rotate(-90)">0</text>
<text class="m" transform="translate(3389,764) rotate(-90)">0</text><text class="m" transform="translate(3450,764) rotate(-90)">Out2</text><text class="m" transform="translate(3509,764) rotate(-90)">0</text><text class="m" transform="translate(3569,764) rotate(-90)">+12</text>
<text class="m" transform="translate(2010,912) rotate(-90)">0</text><text class="m" transform="translate(2070,890) rotate(-90)">Out</text><text class="m" transform="translate(2130,905) rotate(-90)">+12</text><text class="m" transform="translate(2190,895) rotate(-90)">-12</text>
<text class="m" transform="translate(2730,905) rotate(-90)">0</text><text class="m" transform="translate(2790,905) rotate(-90)">0</text><text class="m" transform="translate(2850,890) rotate(-90)">RF</text><text class="m" transform="translate(2910,905) rotate(-90)">0</text><text class="m" transform="translate(2970,905) rotate(-90)">0</text><text class="m" transform="translate(3029,898) rotate(-90)">+st</text><text class="m" transform="translate(3089,898) rotate(-90)">-st</text><text class="m" transform="translate(3150,898) rotate(-90)">0</text><text class="m" transform="translate(3210,898) rotate(-90)">+5</text>
<text class="m" x="3647" y="276">-12</text><text class="m" x="3670" y="325">0</text><text class="m" x="3672" y="385">RF</text><text class="m" x="3672" y="445">-E</text><text class="m" x="3675" y="504">+5</text><text class="m" x="3672" y="564">+E</text><text class="m" x="3672" y="623">0</text>
<text class="m" x="3672" y="1042">0</text><text class="m" x="3653" y="1110">OUT</text><text class="m" x="3657" y="1166">+12</text><text class="m" x="3672" y="1223">0</text><text class="m" x="3672" y="1288">+5</text>
<text class="m" transform="translate(3808,267) rotate(-90)">1</text><text class="m" transform="translate(3808,327) rotate(-90)">2</text><text class="m" transform="translate(3808,387) rotate(-90)">3</text><text class="m" transform="translate(3808,447) rotate(-90)">4</text><text class="m" transform="translate(3808,507) rotate(-90)">5</text><text class="m" transform="translate(3808,567) rotate(-90)">6</text><text class="m" transform="translate(3808,627) rotate(-90)">7</text>
<text class="m" transform="translate(3808,1055) rotate(-90)">14</text><text class="m" transform="translate(3808,1115) rotate(-90)">15</text><text class="m" transform="translate(3808,1175) rotate(-90)">16</text><text class="m" transform="translate(3808,1235) rotate(-90)">17</text><text class="m" transform="translate(3808,1295) rotate(-90)">18</text>
<use href="#plus" x="1608" y="3574"/><use href="#plus" x="2627" y="3604"/><use href="#plus" x="2867" y="3574"/><use href="#plus" x="2627" y="3966"/><use href="#plus" x="2867" y="3966"/><use href="#plus" x="2381" y="1770"/><use href="#plus" x="2502" y="1770"/>
</g>
</svg>
</body></html>
